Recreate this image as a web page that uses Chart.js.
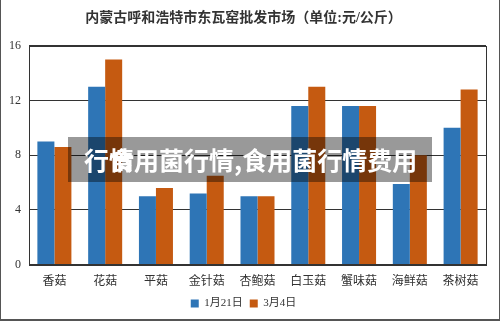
<!DOCTYPE html>
<html>
<head>
<meta charset="utf-8">
<script src="https://cdn.jsdelivr.net/npm/chart.js@4"></script>
<style>
  html, body { margin: 0; padding: 0; background: #fff; }
  #wrap { position: relative; width: 500px; height: 321px; box-sizing: border-box;
          border-left: 1px solid #555; border-right: 1px solid #555; border-bottom: 2px solid #555; }
  #chart { position: absolute; left: 0; top: 0; }
  .band { position: absolute; left: 67px; top: 137px; width: 364px; height: 45px;
          background: rgba(0,0,0,0.4); }
  .mark { position: absolute; top: 143px; color: #fff; font: bold 25px 'Noto Sans CJK SC', sans-serif;
          line-height: 32px; white-space: nowrap; }
</style>
</head>
<body>
<div id="wrap">
  <canvas id="chart" width="500" height="321"></canvas>
  <div class="band"></div>
  <div class="mark" style="left:83px;">行情</div>
  <div class="mark" style="left:108px;">食用菌行情,食用菌行情费用</div>
</div>
<script>
// prices, yuan per kg
const categories = ["香菇", "花菇", "平菇", "金针菇", "杏鲍菇", "白玉菇", "蟹味菇", "海鲜菇", "茶树菇"];
const seriesNames = ["1月21日", "3月4日"];
const jan21 = [9, 13, 5, 5.2, 5, 11.6, 11.6, 5.9, 10];
const mar4 = [8.6, 15, 5.6, 6.5, 5, 13, 11.6, 8, 12.8];
const yTicks = [0, 4, 8, 12, 16];

const FONT = "'Liberation Serif', 'Noto Sans CJK SC', serif";

// closes the plot box on the right side
const frameBox = {
  id: "frameBox",
  afterDatasetsDraw(chart) {
    const a = chart.chartArea, c = chart.ctx;
    c.save();
    c.strokeStyle = "#333";
    c.lineWidth = 1;
    c.strokeRect(Math.round(a.left) + 0.5, Math.round(a.top) + 0.5,
                 Math.round(a.right - a.left), Math.round(a.bottom - a.top));
    c.restore();
  }
};

new Chart(document.getElementById("chart"), {
  type: "bar",
  data: {
    labels: categories,
    datasets: [
      { label: seriesNames[0], data: jan21, backgroundColor: "#2E75B6" },
      { label: seriesNames[1], data: mar4, backgroundColor: "#C55A11" },
    ],
  },
  options: {
    responsive: false,
    animation: false,
    layout: { padding: { left: 0, right: 15, top: 0, bottom: 2 } },
    datasets: { bar: { categoryPercentage: 0.67, barPercentage: 1 } },
    plugins: {
      title: {
        display: true,
        text: "内蒙古呼和浩特市东瓦窑批发市场（单位:元/公斤）",
        color: "#333",
        font: { family: FONT, size: 14 },
        padding: { top: 10, bottom: 19 },
      },
      legend: {
        position: "bottom",
        labels: { color: "#333", font: { family: FONT, size: 11 }, boxWidth: 8, boxHeight: 8, padding: 7 },
      },
      tooltip: { enabled: false },
    },
    scales: {
      x: {
        grid: { display: false },
        border: { color: "#333" },
        ticks: { color: "#333", font: { family: FONT, size: 12 }, padding: 2 },
      },
      y: {
        min: 0, max: 16,
        afterBuildTicks: (s) => { s.ticks = yTicks.map(v => ({ value: v })); },
        afterFit: (s) => { s.width = 28; },
        grid: { color: "#333", drawTicks: false },
        border: { color: "#333" },
        ticks: { color: "#333", font: { family: FONT, size: 12 }, padding: 8 },
      },
    },
  },
  plugins: [frameBox],
});
</script>
</body>
</html>
